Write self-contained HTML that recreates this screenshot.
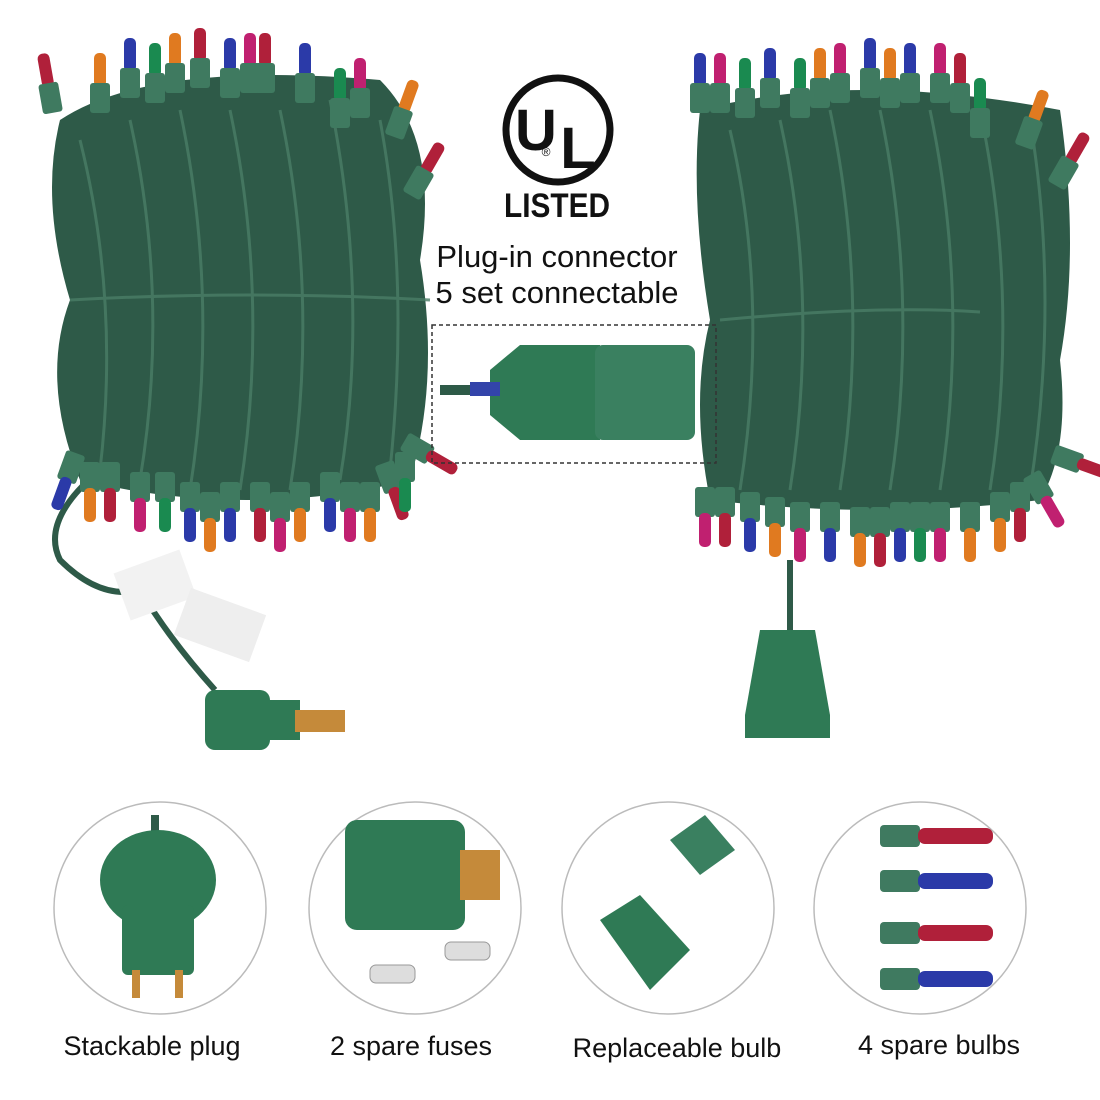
<!DOCTYPE html>
<html><head><meta charset="utf-8"><style>
html,body{margin:0;padding:0;background:#fff;}
svg{display:block;}
text{font-family:"Liberation Sans",sans-serif;}
</style></head><body>
<svg width="1100" height="1100" viewBox="0 0 1100 1100" xmlns="http://www.w3.org/2000/svg">
<defs>
<g id="bu"><rect x="-6" y="-42" width="12" height="34" rx="5"/><rect x="-10" y="-12" width="20" height="30" rx="3" fill="#3f7a60"/></g>
<g id="bd"><rect x="-10" y="-18" width="20" height="30" rx="3" fill="#3f7a60"/><rect x="-6" y="8" width="12" height="34" rx="5"/></g>
</defs>
<rect width="1100" height="1100" fill="#fff"/>

<!-- LEFT BUNDLE -->
<g>
<path d="M60,120 Q150,60 380,80 Q440,140 420,260 Q440,380 410,480 Q250,520 80,480 Q40,380 70,300 Q40,200 60,120Z" fill="#2e5a48"/>
<g stroke="#4a7d66" stroke-width="3" fill="none" opacity="0.8">
<path d="M80,140 Q120,300 100,470"/><path d="M130,120 Q170,300 140,480"/><path d="M180,110 Q220,300 190,490"/>
<path d="M230,110 Q270,300 240,490"/><path d="M280,110 Q320,300 290,490"/><path d="M330,100 Q370,300 340,480"/>
<path d="M380,120 Q410,280 390,470"/><path d="M70,300 Q250,290 430,300"/>
</g>
<path d="M100,470 Q40,520 60,560 Q100,600 140,590 Q170,640 215,690" stroke="#2e5a48" stroke-width="6" fill="none"/>
<g fill="#b0203a"><use href="#bu" x="50" y="95" transform="rotate(-10 50 95)"/><use href="#bu" x="200" y="70"/><use href="#bu" x="265" y="75"/><use href="#bu" x="420" y="180" transform="rotate(30 420 180)"/></g>
<g fill="#2b3aa8"><use href="#bu" x="130" y="80"/><use href="#bu" x="230" y="80"/><use href="#bu" x="305" y="85"/></g>
<g fill="#e07a20"><use href="#bu" x="100" y="95"/><use href="#bu" x="175" y="75"/><use href="#bu" x="400" y="120" transform="rotate(20 400 120)"/></g>
<g fill="#1a8a50"><use href="#bu" x="155" y="85"/><use href="#bu" x="340" y="110"/></g>
<g fill="#c02070"><use href="#bu" x="250" y="75"/><use href="#bu" x="360" y="100"/></g>
<g fill="#2b3aa8"><use href="#bd" x="70" y="470" transform="rotate(20 70 470)"/><use href="#bd" x="190" y="500"/><use href="#bd" x="230" y="500"/><use href="#bd" x="330" y="490"/></g>
<g fill="#b0203a"><use href="#bd" x="110" y="480"/><use href="#bd" x="260" y="500"/><use href="#bd" x="390" y="480" transform="rotate(-20 390 480)"/><use href="#bd" x="420" y="450" transform="rotate(-60 420 450)"/></g>
<g fill="#e07a20"><use href="#bd" x="90" y="480"/><use href="#bd" x="210" y="510"/><use href="#bd" x="300" y="500"/><use href="#bd" x="370" y="500"/></g>
<g fill="#c02070"><use href="#bd" x="140" y="490"/><use href="#bd" x="280" y="510"/><use href="#bd" x="350" y="500"/></g>
<g fill="#1a8a50"><use href="#bd" x="165" y="490"/><use href="#bd" x="405" y="470"/></g>
<rect x="120" y="560" width="70" height="50" fill="#f2f2f2" transform="rotate(-20 155 585)"/>
<rect x="180" y="600" width="80" height="50" fill="#eee" transform="rotate(20 220 625)"/>
<rect x="205" y="690" width="65" height="60" rx="10" fill="#2f7a55"/>
<rect x="260" y="700" width="40" height="40" fill="#2f7a55"/>
<rect x="295" y="710" width="50" height="22" fill="#c58a3a"/>
</g>

<!-- RIGHT BUNDLE -->
<g>
<path d="M700,110 Q850,70 1060,110 Q1080,250 1060,360 Q1070,450 1040,500 Q880,520 710,500 Q690,400 710,320 Q690,200 700,110Z" fill="#2e5a48"/>
<g stroke="#4a7d66" stroke-width="3" fill="none" opacity="0.8">
<path d="M730,130 Q770,300 740,490"/><path d="M780,120 Q820,300 790,490"/><path d="M830,110 Q870,300 840,490"/>
<path d="M880,110 Q920,300 890,490"/><path d="M930,110 Q970,300 940,490"/><path d="M980,110 Q1020,300 990,490"/>
<path d="M1030,120 Q1060,300 1030,490"/><path d="M720,320 Q880,305 980,312"/>
</g>
<g fill="#2b3aa8"><use href="#bu" x="700" y="95"/><use href="#bu" x="770" y="90"/><use href="#bu" x="870" y="80"/><use href="#bu" x="910" y="85"/></g>
<g fill="#c02070"><use href="#bu" x="720" y="95"/><use href="#bu" x="840" y="85"/><use href="#bu" x="940" y="85"/></g>
<g fill="#1a8a50"><use href="#bu" x="745" y="100"/><use href="#bu" x="800" y="100"/><use href="#bu" x="980" y="120"/></g>
<g fill="#e07a20"><use href="#bu" x="820" y="90"/><use href="#bu" x="890" y="90"/><use href="#bu" x="1030" y="130" transform="rotate(20 1030 130)"/></g>
<g fill="#b0203a"><use href="#bu" x="960" y="95"/><use href="#bu" x="1065" y="170" transform="rotate(30 1065 170)"/></g>
<g fill="#c02070"><use href="#bd" x="705" y="505"/><use href="#bd" x="800" y="520"/><use href="#bd" x="940" y="520"/><use href="#bd" x="1040" y="490" transform="rotate(-30 1040 490)"/></g>
<g fill="#2b3aa8"><use href="#bd" x="750" y="510"/><use href="#bd" x="830" y="520"/><use href="#bd" x="900" y="520"/></g>
<g fill="#e07a20"><use href="#bd" x="775" y="515"/><use href="#bd" x="860" y="525"/><use href="#bd" x="970" y="520"/><use href="#bd" x="1000" y="510"/></g>
<g fill="#b0203a"><use href="#bd" x="725" y="505"/><use href="#bd" x="880" y="525"/><use href="#bd" x="1020" y="500"/><use href="#bd" x="1070" y="460" transform="rotate(-70 1070 460)"/></g>
<g fill="#1a8a50"><use href="#bd" x="920" y="520"/></g>
<path d="M790,560 L790,640" stroke="#2e5a48" stroke-width="6"/>
<path d="M760,630 L815,630 L830,715 L830,738 L745,738 L745,715Z" fill="#2f7a55"/>
</g>

<!-- UL logo -->
<circle cx="558" cy="130" r="52" fill="none" stroke="#111" stroke-width="7"/>
<text x="536" y="150" font-size="58" font-weight="bold" text-anchor="middle" fill="#111">U</text>
<text x="578" y="168" font-size="58" font-weight="bold" text-anchor="middle" fill="#111">L</text>
<text x="546" y="156" font-size="12" text-anchor="middle" fill="#111">®</text>
<text x="557" y="217" font-size="34" font-weight="bold" text-anchor="middle" fill="#111" textLength="106" lengthAdjust="spacingAndGlyphs">LISTED</text>
<text x="557" y="267" font-size="31" text-anchor="middle" fill="#111">Plug-in connector</text>
<text x="557" y="303" font-size="31" text-anchor="middle" fill="#111">5 set connectable</text>

<rect x="432" y="325" width="284" height="138" fill="none" stroke="#333" stroke-width="1.5" stroke-dasharray="4,3"/>
<path d="M440,390 L495,390" stroke="#2e5a48" stroke-width="10"/>
<path d="M490,370 L520,345 L600,345 L600,440 L520,440 L490,415Z" fill="#2f7a55"/>
<rect x="595" y="345" width="100" height="95" rx="8" fill="#3a8060"/>
<rect x="470" y="382" width="30" height="14" fill="#3344aa"/>

<g fill="#fff" stroke="#bbb" stroke-width="1.5">
<circle cx="160" cy="908" r="106"/><circle cx="415" cy="908" r="106"/>
<circle cx="668" cy="908" r="106"/><circle cx="920" cy="908" r="106"/>
</g>
<path d="M155,815 L155,840" stroke="#2e5a48" stroke-width="8"/>
<ellipse cx="158" cy="880" rx="58" ry="50" fill="#2f7a55"/>
<rect x="122" y="905" width="72" height="70" rx="6" fill="#2f7a55"/>
<rect x="132" y="970" width="8" height="28" fill="#c58a3a"/><rect x="175" y="970" width="8" height="28" fill="#c58a3a"/>
<rect x="345" y="820" width="120" height="110" rx="12" fill="#2f7a55"/>
<rect x="460" y="850" width="40" height="50" fill="#c58a3a"/>
<rect x="370" y="965" width="45" height="18" rx="6" fill="#ddd" stroke="#999"/>
<rect x="445" y="942" width="45" height="18" rx="6" fill="#ddd" stroke="#999"/>
<path d="M600,920 L640,895 L690,950 L650,990 Z" fill="#2f7a55"/>
<path d="M670,840 L705,815 L735,850 L700,875 Z" fill="#3a8060"/>
<g><rect x="880" y="825" width="40" height="22" rx="4" fill="#3f7a60"/><rect x="918" y="828" width="75" height="16" rx="7" fill="#b0203a"/></g>
<g><rect x="880" y="870" width="40" height="22" rx="4" fill="#3f7a60"/><rect x="918" y="873" width="75" height="16" rx="7" fill="#2b3aa8"/></g>
<g><rect x="880" y="922" width="40" height="22" rx="4" fill="#3f7a60"/><rect x="918" y="925" width="75" height="16" rx="7" fill="#b0203a"/></g>
<g><rect x="880" y="968" width="40" height="22" rx="4" fill="#3f7a60"/><rect x="918" y="971" width="75" height="16" rx="7" fill="#2b3aa8"/></g>

<g font-size="27" fill="#111" text-anchor="middle">
<text x="152" y="1055">Stackable plug</text>
<text x="411" y="1055">2 spare fuses</text>
<text x="677" y="1057">Replaceable bulb</text>
<text x="939" y="1054">4 spare bulbs</text>
</g>
</svg>
</body></html>
